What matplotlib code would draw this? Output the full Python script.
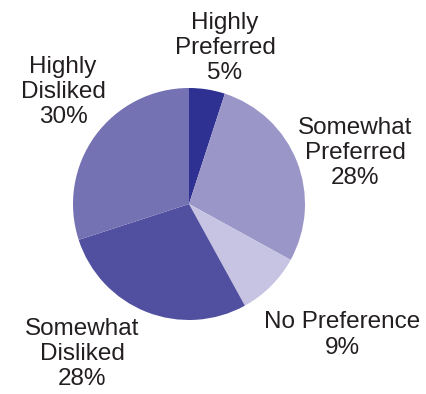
import matplotlib
matplotlib.use("Agg")
import matplotlib.pyplot as plt

# Preference shares, clockwise from 12 o'clock
categories = ["Highly\nPreferred", "Somewhat\nPreferred", "No Preference",
              "Somewhat\nDisliked", "Highly\nDisliked"]
shares = [5, 28, 9, 28, 30]
colors = ["#2e3192", "#9b96c8", "#c6c4e2", "#5150a0", "#7572b4"]

# label anchor points (pixel coords, y measured from the bottom)
label_pos = [(225, 346), (355, 241), (342, 59), (82, 40), (63, 302)]

fig = plt.figure(figsize=(4.27, 3.94), dpi=100)
ax = fig.add_axes([0, 0, 1, 1])

ax.pie(shares, colors=colors, startangle=90, counterclock=False,
       center=(189, 190), radius=116, frame=True,
       wedgeprops=dict(linewidth=0))
ax.set_xlim(0, 427)
ax.set_ylim(0, 394)
ax.set_aspect("equal")
ax.axis("off")

for name, val, (x, y) in zip(categories, shares, label_pos):
    ax.text(x, y, f"{name}\n{val}%", ha="center", va="center",
            fontsize=17.5, family="Liberation Sans", color="#231f20",
            linespacing=1.2)

fig.savefig("out.png", dpi=100)
